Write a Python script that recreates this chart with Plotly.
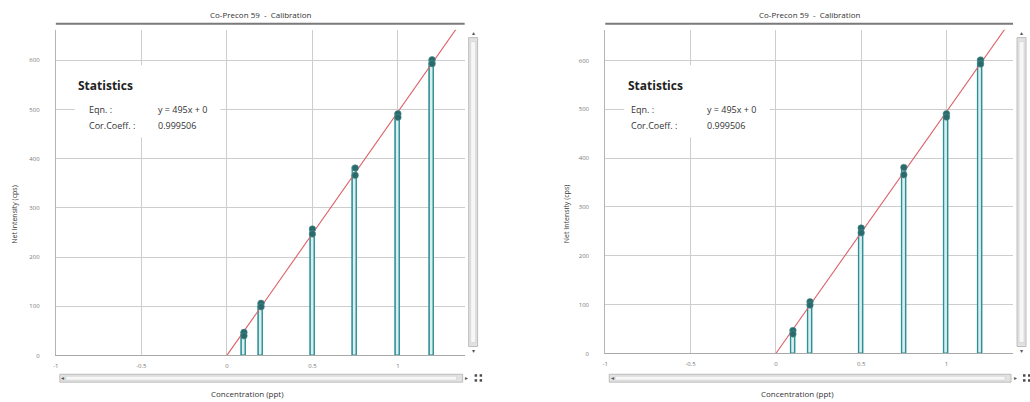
import plotly.graph_objects as go

W, H = 1030, 402

# Calibration standards (ppt) and replicate net intensities (cps)
conc = [0.1, 0.2, 0.5, 0.75, 1.0, 1.2]
rep1 = [47, 106, 257, 381, 491, 601]
rep2 = [40, 99, 247, 366, 484, 593]

# Fitted calibration line
slope = 495
intercept = 0
corr_coeff = "0.999506"
fit_x = [0, 1.4]

x_ticks = [-1, -0.5, 0, 0.5, 1]
x_tick_text = ["-1", "-0.5", "0", "0.5", "1"]
y_ticks = [0, 100, 200, 300, 400, 500, 600]
y_tick_text = ["0", "100", "200", "300", "400", "500", "600"]

title_text = "Co-Precon 59  -  Calibration"
x_title = "Concentration (ppt)"
y_title = "Net Intensity (cps)"

FONT = "Open Sans, Noto Sans, sans-serif"
TEAL = "#2f8f95"
TEAL_DARK = "#2b6a6c"
RED = "#dc6068"
GRID = "#cdcdcd"


def px(x):
    return x / W


def py(y):
    return 1 - y / H


# pixel frames of the two identical calibration panels
panels = [
    dict(sfx="", l=53, r=463, t=30, b=359, ytop=662,
         stat_x=73, eq_x=84, val_x=153, ytitle_x=12, xtitle_x=245),
    dict(sfx="2", l=604, r=1013, t=30, b=357, ytop=663,
         stat_x=625, eq_x=628, val_x=704, ytitle_x=565, xtitle_x=797),
]

fig = go.Figure()
shapes = []
annotations = []
layout_axes = {}

for p in panels:
    xa = "x" + p["sfx"]
    ya = "y" + p["sfx"]
    fit_y = [slope * v + intercept for v in fit_x]

    for reps in (rep1, rep2):
        fig.add_trace(go.Bar(
            x=conc, y=reps, xaxis=xa, yaxis=ya, width=0.024,
            marker=dict(color="rgba(215,240,240,0.9)",
                        line=dict(color=TEAL, width=1.3)),
            showlegend=False, hoverinfo="x+y"))
    fig.add_trace(go.Scatter(
        x=fit_x, y=fit_y, xaxis=xa, yaxis=ya, mode="lines",
        line=dict(color=RED, width=1.1), showlegend=False, hoverinfo="skip"))
    fig.add_trace(go.Scatter(
        x=conc + conc, y=rep1 + rep2, xaxis=xa, yaxis=ya, mode="markers",
        marker=dict(color=TEAL_DARK, size=6.5,
                    line=dict(color="#4c8f8f", width=0.6)),
        showlegend=False))

    key = p["sfx"]
    layout_axes["xaxis" + key] = dict(
        domain=[px(p["l"]), px(p["r"])], range=[-1, 1.39],
        anchor=ya, tickvals=x_ticks, ticktext=x_tick_text,
        showgrid=True, gridcolor=GRID, gridwidth=1, zeroline=False,
        showline=True, linecolor="#a8a8a8", linewidth=1,
        ticks="outside", ticklen=4, tickcolor="rgba(0,0,0,0)",
        tickfont=dict(family=FONT, size=6, color="#777"), fixedrange=True)
    layout_axes["yaxis" + key] = dict(
        domain=[py(p["b"]), py(p["t"])], range=[0, p["ytop"]],
        anchor=xa, tickvals=y_ticks, ticktext=y_tick_text,
        showgrid=True, gridcolor=GRID, gridwidth=1, zeroline=False,
        showline=True, linecolor="#b4b4b4", linewidth=1,
        ticks="outside", ticklen=14, tickcolor="rgba(0,0,0,0)",
        tickfont=dict(family=FONT, size=6, color="#777"), fixedrange=True)

    # title and its rule
    cx = (p["l"] + p["r"]) / 2
    annotations.append(dict(
        text=title_text, x=px(cx), y=py(15), xref="paper", yref="paper",
        showarrow=False, xanchor="center", yanchor="middle",
        font=dict(family=FONT, size=8, color="#333")))
    shapes.append(dict(type="line", xref="paper", yref="paper",
                       x0=px(p["l"]), x1=px(p["r"]), y0=py(24), y1=py(24),
                       line=dict(color="#7a7a7a", width=1.8)))

    # axis titles
    annotations.append(dict(
        text=x_title, x=px(p["xtitle_x"]), y=py(397), xref="paper",
        yref="paper", showarrow=False, xanchor="center", yanchor="middle",
        font=dict(family=FONT, size=8, color="#333")))
    annotations.append(dict(
        text=y_title, x=px(p["ytitle_x"]), y=py(216), xref="paper",
        yref="paper", showarrow=False, textangle=-90, xanchor="center",
        yanchor="middle", font=dict(family=FONT, size=7, color="#333")))

    # statistics panel
    shapes.append(dict(type="rect", xref="paper", yref="paper",
                       x0=px(p["l"] + 19), x1=px(p["l"] + 165),
                       y0=py(66), y1=py(139), fillcolor="white",
                       line=dict(width=0), layer="above"))
    annotations.append(dict(
        text="<b>Statistics</b>", x=px(p["stat_x"]), y=py(86), xref="paper",
        yref="paper", showarrow=False, xanchor="left", yanchor="middle",
        font=dict(family=FONT, size=12, color="#222")))
    for label, value, yy in (("Eqn. :", f"y = {slope}x + {intercept}", 111),
                             ("Cor.Coeff. :", corr_coeff, 127)):
        annotations.append(dict(
            text=label, x=px(p["eq_x"]), y=py(yy), xref="paper",
            yref="paper", showarrow=False, xanchor="left", yanchor="middle",
            font=dict(family=FONT, size=9, color="#333")))
        annotations.append(dict(
            text=value, x=px(p["val_x"]), y=py(yy), xref="paper",
            yref="paper", showarrow=False, xanchor="left", yanchor="middle",
            font=dict(family=FONT, size=9, color="#333")))

    # vertical scrollbar
    vx0, vx1 = p["r"] + 4, p["r"] + 13
    shapes.append(dict(type="rect", xref="paper", yref="paper",
                       x0=px(vx0), x1=px(vx1), y0=py(38), y1=py(350),
                       fillcolor="#e2e2e2", line=dict(color="#bdbdbd", width=1)))
    shapes.append(dict(type="rect", xref="paper", yref="paper",
                       x0=px(vx0 + 2), x1=px(vx1 - 2), y0=py(42), y1=py(346),
                       fillcolor="#f7f7f7", line=dict(color="#cfcfcf", width=0.6)))
    for sym, yy in (("▴", 33), ("▾", 355)):
        annotations.append(dict(
            text=sym, x=px((vx0 + vx1) / 2), y=py(yy), xref="paper",
            yref="paper", showarrow=False, xanchor="center", yanchor="middle",
            font=dict(family=FONT, size=6, color="#555")))

    # horizontal scrollbar
    hx0, hx1 = p["l"] + 4, p["r"] - 2
    shapes.append(dict(type="rect", xref="paper", yref="paper",
                       x0=px(hx0), x1=px(hx1), y0=py(378), y1=py(386),
                       fillcolor="#e2e2e2", line=dict(color="#bdbdbd", width=1)))
    shapes.append(dict(type="rect", xref="paper", yref="paper",
                       x0=px(hx0 + 6), x1=px(hx1 - 6), y0=py(380), y1=py(384),
                       fillcolor="#f7f7f7", line=dict(color="#cfcfcf", width=0.6)))
    for sym, xx in (("◂", hx0 + 3), ("▸", hx1 + 4)):
        annotations.append(dict(
            text=sym, x=px(xx), y=py(382), xref="paper", yref="paper",
            showarrow=False, xanchor="center", yanchor="middle",
            font=dict(family=FONT, size=6, color="#555")))
    # zoom-reset glyph beside the scrollbar
    gx = p["r"] + 10
    for dx in (0, 5):
        for dy in (0, 5):
            shapes.append(dict(type="rect", xref="paper", yref="paper",
                               x0=px(gx + dx), x1=px(gx + dx + 2.5),
                               y0=py(378 + dy), y1=py(380.5 + dy),
                               fillcolor="#4a4a4a", line=dict(width=0)))

fig.update_layout(
    width=W, height=H,
    margin=dict(l=0, r=0, t=0, b=0),
    paper_bgcolor="white", plot_bgcolor="white",
    barmode="overlay", bargap=0,
    showlegend=False,
    shapes=shapes, annotations=annotations,
    **layout_axes,
)

fig.write_html("out.html", config={"displayModeBar": False})
